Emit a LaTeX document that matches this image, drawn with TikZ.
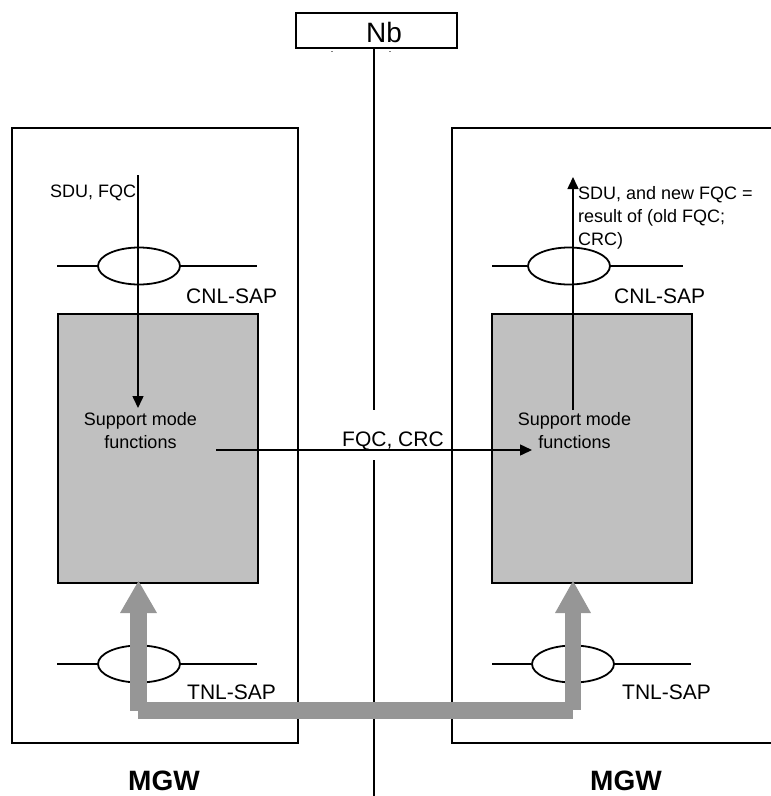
\documentclass[tikz,border=0pt]{standalone}
\usepackage{fontspec}
\setmainfont{Liberation Sans}
\usetikzlibrary{arrows.meta,shapes.geometric}
\definecolor{boxgray}{RGB}{192,192,192}
\definecolor{arrowgray}{RGB}{150,150,150}
\begin{document}
\begin{tikzpicture}[x=1pt,y=-1pt,
  mgwbox/.style={draw=black,line width=2pt,rectangle,inner sep=0pt},
  smbox/.style={draw=black,line width=2pt,fill=boxgray,rectangle,inner sep=0pt},
  sap/.style={draw=black,line width=1.8pt,ellipse,inner sep=0pt,minimum width=82pt,minimum height=37pt},
  sapline/.style={line width=1.8pt},
  flow/.style={line width=1.5pt,-{Triangle[length=12pt,width=11pt]}},
  thick arrow/.style={fill=arrowgray,draw=none},
  lbl/.style={inner sep=0pt,anchor=base west,font=\fontsize{21}{24}\selectfont},
  small/.style={inner sep=0pt,font=\fontsize{18}{23}\selectfont},
  big/.style={inner sep=0pt,anchor=base west,font=\fontsize{28}{32}\selectfont\bfseries},
]
\useasboundingbox (0,0) rectangle (771,796);

% boxes
\node[mgwbox,minimum width=286pt,minimum height=615pt] (mgwL) at (155,435.5) {};
\node[mgwbox,minimum width=360pt,minimum height=615pt] (mgwR) at (632,435.5) {};
\node[smbox,minimum width=200pt,minimum height=269pt] (smL) at (158,448.5) {};
\node[smbox,minimum width=200pt,minimum height=269pt] (smR) at (592,448.5) {};
\node[draw=black,line width=1.5pt,rectangle,inner sep=0pt,minimum width=161pt,minimum height=35pt] (nb) at (376.5,30.5) {};
\node[inner sep=0pt,anchor=base west,font=\fontsize{28}{32}\selectfont] (nbt) at (366,42) {Nb};

% tiny marks below Nb
\draw[line width=1pt,gray] (331,51) -- (333,51) (389,51) -- (391,51);

% Nb interface line
\coordinate (nbTop) at (374,48);
\coordinate (nbGapA) at (374,410);
\coordinate (nbGapB) at (374,460);
\coordinate (nbBot) at (374,796);
\draw[line width=1.5pt] (nbTop) -- (nbGapA);
\draw[line width=1.5pt] (nbGapB) -- (nbBot);

% SAP ellipses and lines
\node[sap] (cnlL) at (139,266) {};
\node[sap] (cnlR) at (569,266) {};
\node[sap] (tnlL) at (139,664) {};
\node[sap] (tnlR) at (573,664) {};
\coordinate (cnlLa) at (57,266);  \coordinate (cnlLb) at (257,266);
\coordinate (cnlRa) at (492,266); \coordinate (cnlRb) at (683,266);
\coordinate (tnlLa) at (57,664);  \coordinate (tnlLb) at (257,664);
\coordinate (tnlRa) at (492,664); \coordinate (tnlRb) at (691,664);
\draw[sapline] (cnlLa) -- (cnlL.west) (cnlL.east) -- (cnlLb);
\draw[sapline] (cnlRa) -- (cnlR.west) (cnlR.east) -- (cnlRb);
\draw[sapline] (tnlLa) -- (tnlL.west) (tnlL.east) -- (tnlLb);
\draw[sapline] (tnlRa) -- (tnlR.west) (tnlR.east) -- (tnlRb);

% labels
\node[lbl] (cnlLt) at (186,303) {CNL-SAP};
\node[lbl] (cnlRt) at (614,303) {CNL-SAP};
\node[lbl] (tnlLt) at (187,699) {TNL-SAP};
\node[lbl] (tnlRt) at (622,699) {TNL-SAP};
\node[big] (mgwLt) at (128,790) {MGW};
\node[big] (mgwRt) at (590,790) {MGW};

\node[small,anchor=base west] (sduL) at (50,197) {SDU, FQC};
\node[small,anchor=north west,align=left] (sduR) at (578,186) {SDU, and new FQC =\\result of (old FQC;\\CRC)};
\node[small,align=center] (smLt) at (140.5,431) {Support mode\\functions};
\node[small,align=center] (smRt) at (574.5,431) {Support mode\\functions};
\node[lbl] (fqc) at (342,446) {FQC, CRC};

% thin flows
\coordinate (inTop) at (138,175);
\coordinate (inEnd) at (138,408);
\draw[flow] (inTop) -- (inEnd);
\coordinate (outStart) at (573,410);
\coordinate (outTop) at (573,177);
\draw[flow] (outStart) -- (outTop);
\coordinate (hStart) at (216,450);
\coordinate (hEnd) at (532,450);
\draw[flow] (hStart) -- (hEnd);

% thick gray transport arrow
\fill[thick arrow] (130,711) rectangle (147,612);
\fill[thick arrow] (120,613) -- (138.5,581) -- (157,613) -- cycle;
\fill[thick arrow] (138,702) rectangle (573,719);
\fill[thick arrow] (565,710) rectangle (581,612);
\fill[thick arrow] (555,613) -- (573,581) -- (591,613) -- cycle;
\end{tikzpicture}
\end{document}
